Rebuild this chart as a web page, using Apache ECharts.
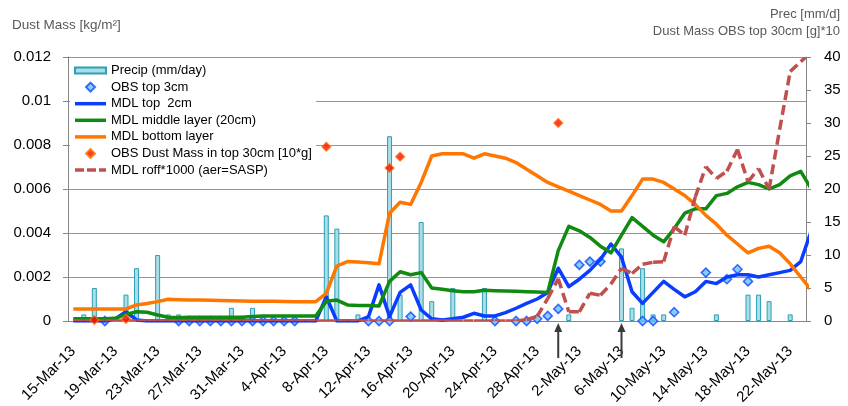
<!DOCTYPE html>
<html>
<head>
<meta charset="utf-8">
<script src="https://cdn.jsdelivr.net/npm/echarts@6/dist/echarts.min.js"></script>
<style>
  html, body { margin: 0; padding: 0; background: #fff; }
  #chart { width: 848px; height: 406px; }
</style>
</head>
<body>
<div id="chart"></div>
<script>
// Daily categories, 15 Mar to 24 May 2013 (the last day runs past the axis end and is clipped)
const dates = [
  '15-Mar-13','16-Mar-13','17-Mar-13','18-Mar-13','19-Mar-13','20-Mar-13','21-Mar-13','22-Mar-13','23-Mar-13','24-Mar-13',
  '25-Mar-13','26-Mar-13','27-Mar-13','28-Mar-13','29-Mar-13','30-Mar-13','31-Mar-13','1-Apr-13','2-Apr-13','3-Apr-13',
  '4-Apr-13','5-Apr-13','6-Apr-13','7-Apr-13','8-Apr-13','9-Apr-13','10-Apr-13','11-Apr-13','12-Apr-13','13-Apr-13',
  '14-Apr-13','15-Apr-13','16-Apr-13','17-Apr-13','18-Apr-13','19-Apr-13','20-Apr-13','21-Apr-13','22-Apr-13','23-Apr-13',
  '24-Apr-13','25-Apr-13','26-Apr-13','27-Apr-13','28-Apr-13','29-Apr-13','30-Apr-13','1-May-13','2-May-13','3-May-13',
  '4-May-13','5-May-13','6-May-13','7-May-13','8-May-13','9-May-13','10-May-13','11-May-13','12-May-13','13-May-13',
  '14-May-13','15-May-13','16-May-13','17-May-13','18-May-13','19-May-13','20-May-13','21-May-13','22-May-13','23-May-13',
  '24-May-13'
];
const lastShownIndex = 69;

// Precipitation, mm/day (rain days only)
const precip = [
  ['16-Mar-13', 1], ['17-Mar-13', 5], ['20-Mar-13', 4], ['21-Mar-13', 8], ['23-Mar-13', 10],
  ['24-Mar-13', 1], ['25-Mar-13', 1], ['30-Mar-13', 2], ['1-Apr-13', 2],
  ['8-Apr-13', 16], ['9-Apr-13', 14], ['11-Apr-13', 1], ['14-Apr-13', 28], ['15-Apr-13', 4],
  ['17-Apr-13', 15], ['18-Apr-13', 3], ['20-Apr-13', 5], ['23-Apr-13', 5], ['1-May-13', 1],
  ['6-May-13', 11], ['7-May-13', 2], ['8-May-13', 8], ['9-May-13', 1], ['10-May-13', 1],
  ['15-May-13', 1], ['18-May-13', 4], ['19-May-13', 4], ['20-May-13', 3], ['22-May-13', 1]
];

// Observed dust mass in the top 3 cm, kg/m2
const obsTop3 = [
  ['18-Mar-13', 0], ['25-Mar-13', 0], ['26-Mar-13', 0], ['27-Mar-13', 0], ['28-Mar-13', 0],
  ['29-Mar-13', 0], ['30-Mar-13', 0], ['31-Mar-13', 0], ['1-Apr-13', 0], ['2-Apr-13', 0],
  ['3-Apr-13', 0], ['4-Apr-13', 0], ['5-Apr-13', 0], ['12-Apr-13', 0], ['13-Apr-13', 0],
  ['14-Apr-13', 0], ['16-Apr-13', 0.0002], ['24-Apr-13', 0], ['26-Apr-13', 0], ['27-Apr-13', 0],
  ['28-Apr-13', 0.0001], ['29-Apr-13', 0.00023], ['30-Apr-13', 0.00055], ['2-May-13', 0.00255],
  ['3-May-13', 0.0027], ['4-May-13', 0.0027], ['8-May-13', 0], ['9-May-13', 0], ['11-May-13', 0.0004],
  ['14-May-13', 0.0022], ['16-May-13', 0.0019], ['17-May-13', 0.00235], ['18-May-13', 0.0018]
];

// Observed dust mass in the top 30 cm, g*10
const obsTop30 = [
  ['17-Mar-13', 0.15], ['20-Mar-13', 0.3], ['8-Apr-13', 26.4], ['14-Apr-13', 23.2],
  ['15-Apr-13', 24.9], ['30-Apr-13', 30.0]
];

// Modelled dust mass, kg/m2, one value per day
const mdlTop2 = [
  0, 0, 0, 0, 0.0001, 0.00042, 0.00005, 0, 0, 0,
  0, 0, 0, 0, 0, 0, 0, 0, 0, 0,
  0, 0, 0, 0, 0.0011, 0, 0, 0, 0.0002, 0.00164,
  0.0002, 0.0013, 0.00164, 0.0005, 0.0001, 0.00005, 0.0001, 0.00017, 0.00035, 0.00023,
  0.00023, 0.00038, 0.00058, 0.0008, 0.001, 0.0013, 0.0024, 0.00156, 0.0019, 0.0023,
  0.0028, 0.0035, 0.0029, 0.00133, 0.0008, 0.0013, 0.0018, 0.00144, 0.0011, 0.00133,
  0.0018, 0.0017, 0.002, 0.0021, 0.0021, 0.002, 0.0021, 0.0022, 0.0023, 0.0027,
  0.0041
];
const mdlMiddle = [
  0.0001, 0.0001, 0.0001, 0.0001, 0.00012, 0.0003, 0.00042, 0.0004, 0.00027, 0.00017,
  0.00015, 0.00017, 0.00017, 0.00017, 0.00017, 0.00017, 0.00017, 0.0002, 0.00023, 0.00023,
  0.00023, 0.00023, 0.00023, 0.00023, 0.0009, 0.00095, 0.00073, 0.00071, 0.0007, 0.00068,
  0.0018, 0.00224, 0.0021, 0.0022, 0.0015, 0.00144, 0.00138, 0.00133, 0.00133, 0.0014,
  0.00138, 0.00136, 0.00135, 0.00133, 0.00132, 0.0013, 0.0032, 0.0043, 0.0041, 0.0038,
  0.0034, 0.0031, 0.0039, 0.0047, 0.0043, 0.0039, 0.0036, 0.0042, 0.0049, 0.0051,
  0.0051, 0.0057, 0.0058, 0.0061, 0.0063, 0.0062, 0.006, 0.0062, 0.0066, 0.0068,
  0.006
];
const mdlBottom = [
  0.00055, 0.00055, 0.00055, 0.00055, 0.00055, 0.00055, 0.00073, 0.0008, 0.00088, 0.00099,
  0.00097, 0.00096, 0.00095, 0.00094, 0.00093, 0.00092, 0.00091, 0.0009, 0.0009, 0.0009,
  0.00089, 0.00088, 0.00088, 0.00088, 0.00126, 0.0025, 0.0027, 0.00268, 0.00265, 0.0026,
  0.0049, 0.0054, 0.0053, 0.0063, 0.0075, 0.0076, 0.0076, 0.0076, 0.0074, 0.0076,
  0.0075, 0.0074, 0.0072, 0.0069, 0.0066, 0.0063, 0.0061, 0.0059, 0.0057, 0.0055,
  0.0053, 0.005, 0.005, 0.0057, 0.00645, 0.00645, 0.0063, 0.006, 0.0057, 0.0053,
  0.0048, 0.0044, 0.0039, 0.0035, 0.0031, 0.0033, 0.0034, 0.0031, 0.0026, 0.002,
  0.0014
];
// Modelled runoff x1000 (aer=SASP), right axis
const mdlRoff = [
  0, 0, 0, 0, 0, 0, 0, 0, 0, 0,
  0, 0, 0, 0, 0, 0, 0, 0, 0, 0,
  0, 0, 0, 0, 0, 0, 0, 0, 0, 0,
  0, 0, 0, 0, 0, 0, 0, 0, 0, 0,
  0, 0, 0, 0.2, 0.7, 3.4, 6.4, 1.4, 1.4, 4.2,
  3.9, 5.6, 8.0, 7.2, 8.6, 8.9, 9.0, 14.3, 13.0, 18.8,
  23.4, 21.6, 22.7, 26.0, 21.1, 23.1, 20.0, 29.0, 37.8, 39.3,
  40.7
];

// Days flagged with arrows under the date axis
const arrowDates = ['30-Apr-13', '6-May-13'];

const FONT = "'Liberation Sans', Arial, sans-serif";
const AXIS_GREY = '#868686';
const ROFF_RED = '#c0504d';

// Legend glyphs
const ICON_BAR = 'path://M0,0H31V6H0Z';
const ICON_DIAMOND = 'path://M5,0L10,5L5,10L0,5Z';
const ICON_LINE = 'path://M0,0H31V3.5H0Z';
const ICON_DASH = 'path://M0,0H9V3.5H0Z M12,0H21V3.5H12Z M24,0H31V3.5H24Z';

const chart = echarts.init(document.getElementById('chart'), null, { renderer: 'canvas' });

const option = {
  animation: false,
  backgroundColor: '#ffffff',
  textStyle: { fontFamily: FONT },
  grid: { left: 68, right: 42, top: 57, bottom: 85, containLabel: false, outerBoundsMode: 'none' },
  legend: {
    orient: 'vertical',
    left: 70,
    top: 61,
    padding: [2, 4, 2, 4],
    backgroundColor: '#ffffff',
    itemWidth: 31,
    itemHeight: 9,
    itemGap: 1.6,
    textStyle: { fontSize: 13, color: '#000', fontFamily: FONT, lineHeight: 15 },
    data: [
      { name: 'Precip (mm/day)', icon: ICON_BAR },
      { name: 'OBS top 3cm', icon: ICON_DIAMOND },
      { name: 'MDL top  2cm', icon: ICON_LINE },
      { name: 'MDL middle layer (20cm)', icon: ICON_LINE },
      { name: 'MDL bottom layer', icon: ICON_LINE },
      { name: 'OBS Dust Mass in top 30cm [10*g]', icon: ICON_DIAMOND },
      { name: 'MDL roff*1000 (aer=SASP)', icon: ICON_DASH }
    ]
  },
  xAxis: {
    type: 'category',
    data: dates,
    max: lastShownIndex,
    boundaryGap: true,
    axisLine: { lineStyle: { color: AXIS_GREY, width: 1 } },
    axisTick: { interval: 3, length: 5, lineStyle: { color: AXIS_GREY } },
    axisLabel: { interval: 3, rotate: 45, fontSize: 15, color: '#000', margin: 28, fontFamily: FONT },
    splitLine: { show: false }
  },
  yAxis: [
    {
      type: 'value',
      min: 0,
      max: 0.012,
      interval: 0.002,
      axisLine: { show: true, lineStyle: { color: AXIS_GREY } },
      axisTick: { show: true, length: 5, lineStyle: { color: AXIS_GREY } },
      axisLabel: {
        fontSize: 15, color: '#000', margin: 17, fontFamily: FONT,
        formatter: v => (v === 0 ? '0' : String(+v.toFixed(3)))
      },
      splitLine: { show: true, lineStyle: { color: '#959595', width: 1 } }
    },
    {
      type: 'value',
      position: 'right',
      min: 0,
      max: 40,
      interval: 5,
      axisLine: { show: true, lineStyle: { color: AXIS_GREY } },
      axisTick: { show: true, length: 5, lineStyle: { color: AXIS_GREY } },
      axisLabel: { fontSize: 15, color: '#000', margin: 18, fontFamily: FONT },
      splitLine: { show: false }
    }
  ],
  series: [
    {
      name: 'Precip (mm/day)',
      type: 'bar',
      yAxisIndex: 1,
      data: precip,
      barWidth: 5,
      itemStyle: { color: '#a9dde8', borderColor: '#2f9fb5', borderWidth: 1 },
      z: 1
    },
    {
      name: 'OBS top 3cm',
      type: 'scatter',
      yAxisIndex: 0,
      data: obsTop3,
      symbol: 'diamond',
      symbolSize: 9,
      clip: false,
      itemStyle: { color: '#63c5f7', borderColor: '#1446ff', borderWidth: 1.6 },
      z: 2
    },
    {
      name: 'MDL top  2cm',
      type: 'line',
      yAxisIndex: 0,
      data: mdlTop2,
      symbol: 'none',
      lineStyle: { color: '#0b3dff', width: 3.5, join: 'round' },
      itemStyle: { color: '#0b3dff' },
      z: 3
    },
    {
      name: 'MDL middle layer (20cm)',
      type: 'line',
      yAxisIndex: 0,
      data: mdlMiddle,
      symbol: 'none',
      lineStyle: { color: '#118a12', width: 3.5, join: 'round' },
      itemStyle: { color: '#118a12' },
      z: 3
    },
    {
      name: 'MDL bottom layer',
      type: 'line',
      yAxisIndex: 0,
      data: mdlBottom,
      symbol: 'none',
      lineStyle: { color: '#ff7700', width: 3.5, join: 'round' },
      itemStyle: { color: '#ff7700' },
      z: 3
    },
    {
      // dashed runoff line, the dash pattern restarts on every daily segment
      name: 'MDL roff*1000 (aer=SASP)',
      type: 'custom',
      yAxisIndex: 1,
      clip: true,
      data: dates.map((d, i) => [i, mdlRoff[i]]),
      encode: { x: 0, y: 1 },
      itemStyle: { color: ROFF_RED },
      renderItem: (params, api) => {
        const i = params.dataIndex;
        if (i >= mdlRoff.length - 1) return null;
        const p0 = api.coord([i, mdlRoff[i]]);
        const p1 = api.coord([i + 1, mdlRoff[i + 1]]);
        return {
          type: 'line',
          shape: { x1: p0[0], y1: p0[1], x2: p1[0], y2: p1[1] },
          style: { stroke: ROFF_RED, lineWidth: 3.5, lineDash: [10, 5], lineCap: 'butt', fill: null }
        };
      },
      z: 4
    },
    {
      name: 'OBS Dust Mass in top 30cm [10*g]',
      type: 'scatter',
      yAxisIndex: 1,
      data: obsTop30,
      symbol: 'diamond',
      symbolSize: 9,
      clip: false,
      itemStyle: { color: '#ff0a00', borderColor: '#ff7a00', borderWidth: 1.2 },
      z: 5
    }
  ],
  graphic: [
    {
      id: 'leftTitle', type: 'text',
      style: { x: 12, y: 25, text: 'Dust Mass [kg/m²]', fontSize: 13.5, fontFamily: FONT, fill: '#595959', verticalAlign: 'middle' }
    },
    {
      id: 'rightTitle1', type: 'text',
      style: { x: 840, y: 14, text: 'Prec [mm/d]', fontSize: 13, fontFamily: FONT, fill: '#595959', align: 'right', verticalAlign: 'middle' }
    },
    {
      id: 'rightTitle2', type: 'text',
      style: { x: 840, y: 31, text: 'Dust Mass OBS top 30cm [g]*10', fontSize: 13, fontFamily: FONT, fill: '#595959', align: 'right', verticalAlign: 'middle' }
    }
  ]
};

chart.setOption(option);

// Arrows below the date axis, placed through the category scale
const axisY = chart.convertToPixel({ yAxisIndex: 0 }, 0);
const arrows = [];
arrowDates.forEach((d, k) => {
  const x = chart.convertToPixel({ xAxisIndex: 0 }, d);
  arrows.push({
    id: 'arrowShaft' + k, type: 'line', z: 50,
    shape: { x1: x, y1: axisY + 37, x2: x, y2: axisY + 9 },
    style: { stroke: '#3a3a3a', lineWidth: 2 }
  });
  arrows.push({
    id: 'arrowHead' + k, type: 'polygon', z: 50,
    shape: { points: [[x, axisY + 2], [x - 4, axisY + 11], [x + 4, axisY + 11]] },
    style: { fill: '#3a3a3a' }
  });
});
chart.setOption({ graphic: arrows });
</script>
</body>
</html>
